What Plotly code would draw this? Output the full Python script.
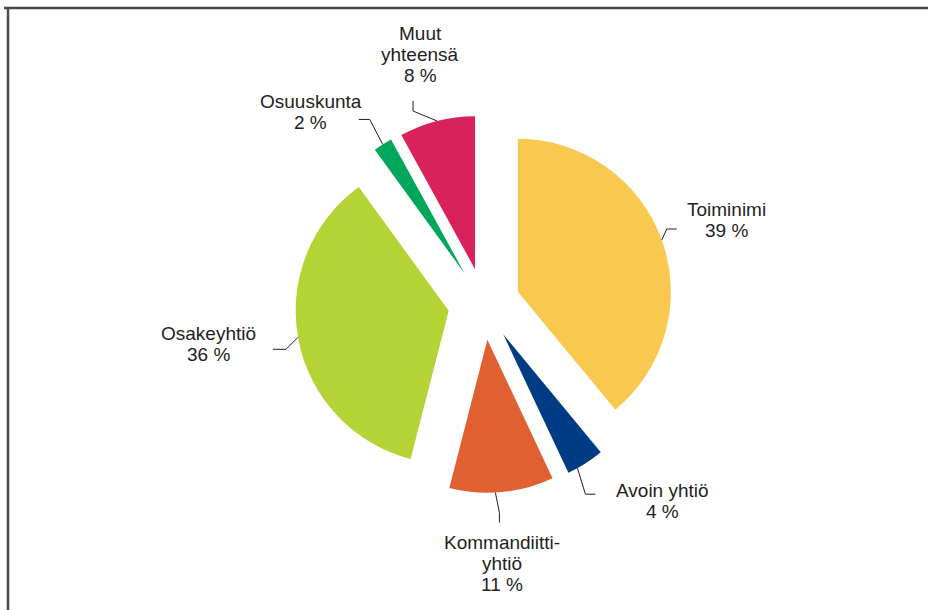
import math
import plotly.graph_objects as go

# ---- data ----
labels = ["Toiminimi", "Avoin yhtiö", "Kommandiitti-yhtiö", "Osakeyhtiö", "Osuuskunta", "Muut yhteensä"]
label_lines = [["Toiminimi"], ["Avoin yhtiö"], ["Kommandiitti-", "yhtiö"], ["Osakeyhtiö"], ["Osuuskunta"], ["Muut", "yhteensä"]]
values = [39, 4, 11, 36, 2, 8]
colors = ["#F8C84F", "#003C86", "#E06031", "#B4D335", "#00A75B", "#D9215B"]

# ---- layout / style ----
W, H = 928, 610
CX, CY = 484, 304          # pie centre (px)
R = 153                    # slice radius (px)
PULL = 0.235
TEXT_COLOR = "#231F20"
FONT = "Liberation Sans, Arial, sans-serif"
FS = 19
LINE_H = 21

# per-label leader geometry (px offsets from slice edge point)
label_angle_override = {1: 151.0, 2: 177.0, 3: 260.0}
leader = [
    dict(elbow=(5, -11), end=(15, -11), text=(65, -20)),
    dict(elbow=(8, 26), end=(18, 26), text=(85, 33)),
    dict(elbow=(4, 20), end=(4, 30), text=(7, 71)),
    dict(elbow=(-12, 12), end=(-25, 12), text=(-90, 7)),
    dict(elbow=(-13, -25), end=(-24, -25), text=(-72, -32)),
    dict(elbow=(-24, -10), end=(-24, -20), text=(-17, -66)),
]


def px(x):
    return x / W


def py(y):
    return 1 - y / H


half = R * (1 + PULL)
fig = go.Figure(go.Pie(
    labels=labels, values=values, sort=False, direction="clockwise", rotation=0,
    pull=[PULL] * len(values), marker=dict(colors=colors, line=dict(width=0)),
    textinfo="none", hoverinfo="skip", showlegend=False,
    domain=dict(x=[px(CX - half), px(CX + half)], y=[py(CY + half), py(CY - half)]),
))

shapes = [
    dict(type="line", xref="paper", yref="paper", x0=px(4), x1=px(W + 5), y0=py(8), y1=py(8),
         line=dict(color="#4A4A4A", width=2.5)),
    dict(type="line", xref="paper", yref="paper", x0=px(8), x1=px(8), y0=py(8), y1=py(H + 5),
         line=dict(color="#4A4A4A", width=2.5)),
]
annotations = []

total = sum(values)
cum = 0.0
for i, v in enumerate(values):
    a0 = cum / total * 360
    cum += v
    a1 = cum / total * 360
    mid = (a0 + a1) / 2
    ax = CX + PULL * R * math.sin(math.radians(mid))
    ay = CY - PULL * R * math.cos(math.radians(mid))
    la = label_angle_override.get(i, mid)
    ex = ax + R * math.sin(math.radians(la))
    ey = ay - R * math.cos(math.radians(la))
    g = leader[i]
    bx, by = ex + g["elbow"][0], ey + g["elbow"][1]
    qx, qy = ex + g["end"][0], ey + g["end"][1]
    shapes.append(dict(
        type="path", xref="paper", yref="paper",
        path=f"M {px(ex)} {py(ey)} L {px(bx)} {py(by)} L {px(qx)} {py(qy)}",
        line=dict(color=TEXT_COLOR, width=1),
    ))
    lines = label_lines[i] + [f"{v} %"]
    tx, ty = ex + g["text"][0], ey + g["text"][1]
    n = len(lines)
    for k, t in enumerate(lines):
        yk = ty + (k - (n - 1) / 2) * LINE_H
        annotations.append(dict(
            x=px(tx), y=py(yk), xref="paper", yref="paper", text=t, showarrow=False,
            xanchor="center", yanchor="middle",
            font=dict(family=FONT, size=FS, color=TEXT_COLOR),
        ))

fig.update_layout(
    width=W, height=H, margin=dict(l=0, r=0, t=0, b=0),
    paper_bgcolor="white", plot_bgcolor="white",
    shapes=shapes, annotations=annotations,
)
fig.write_html("out.html", config={"displayModeBar": False},
               post_script="document.body.style.margin='0px';document.body.style.overflow='hidden';")
